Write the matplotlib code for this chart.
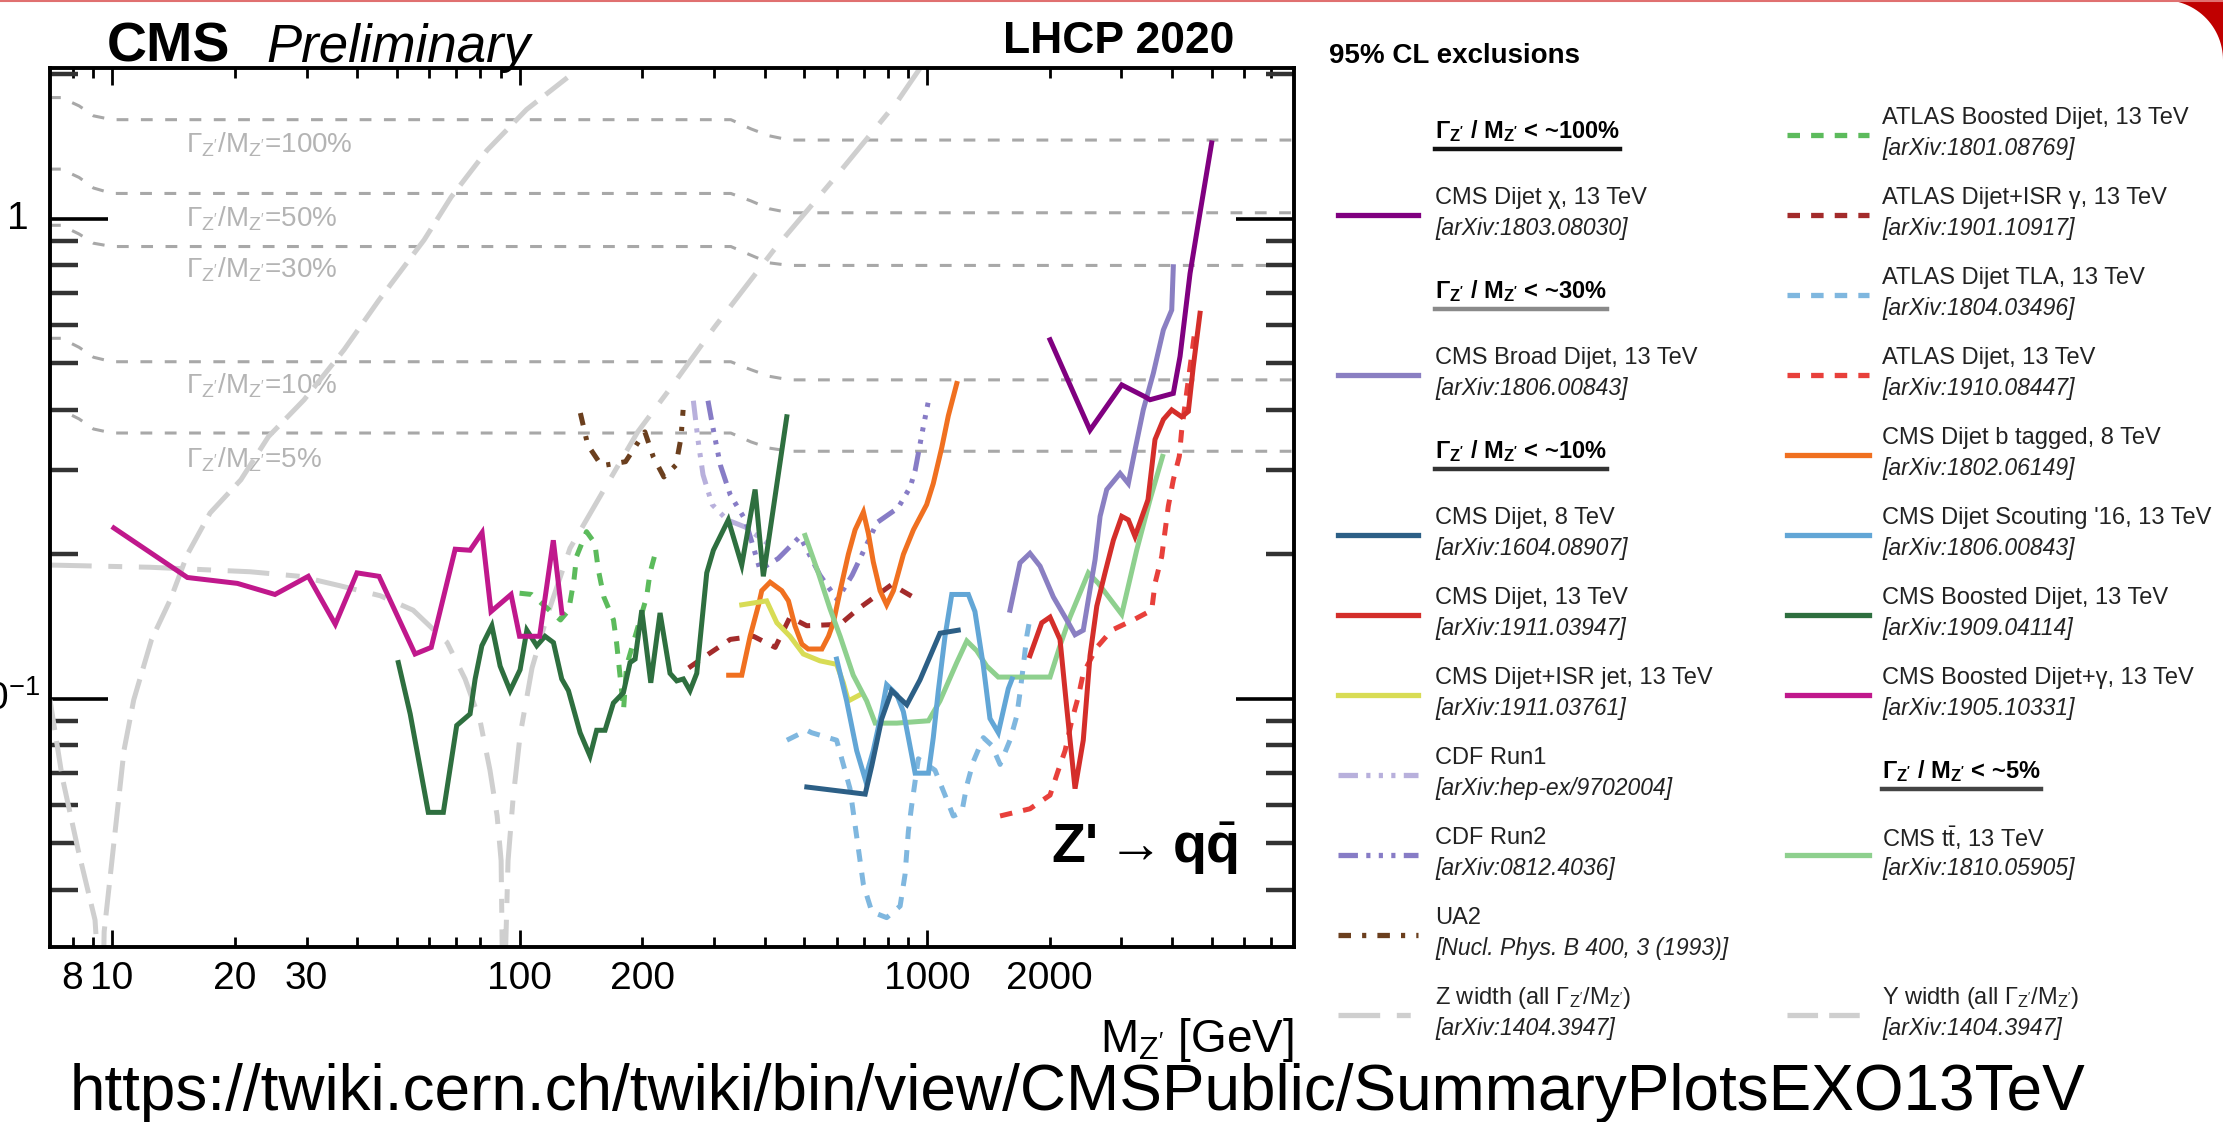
import matplotlib
matplotlib.use('Agg')
import matplotlib.pyplot as plt
from matplotlib.lines import Line2D
from matplotlib.patches import Polygon
from matplotlib.ticker import FixedLocator, FixedFormatter, FuncFormatter, NullFormatter
import numpy as np

plt.rcParams['font.family'] = ['Liberation Sans', 'DejaVu Sans']
plt.rcParams['mathtext.fontset'] = 'custom'
plt.rcParams['mathtext.rm'] = 'Liberation Sans'
plt.rcParams['mathtext.it'] = 'Liberation Sans:italic'
plt.rcParams['mathtext.bf'] = 'Liberation Sans:bold'
plt.rcParams['lines.scale_dashes'] = False

# ---------------- data (mass in GeV, coupling) ----------------
width_x = [7.0, 7.5, 8.3, 9.0, 10.0, 330, 370, 410, 460, 8000]
gm100_y = [1.79, 1.79, 1.72, 1.64, 1.61, 1.61, 1.54, 1.49, 1.46, 1.46]
gm50_y = [1.27, 1.27, 1.22, 1.16, 1.13, 1.13, 1.09, 1.05, 1.03, 1.03]
gm30_y = [0.97, 0.97, 0.93, 0.89, 0.876, 0.876, 0.84, 0.81, 0.80, 0.80]
gm10_y = [0.564, 0.564, 0.54, 0.515, 0.504, 0.504, 0.485, 0.47, 0.462, 0.462]
gm5_y = [0.40, 0.40, 0.383, 0.365, 0.358, 0.358, 0.343, 0.333, 0.328, 0.328]
gm_labels = ['=100%', '=50%', '=30%', '=10%', '=5%']

zw_x = [7.04, 12.4, 21.8, 28.9, 36.3, 45.5, 54.8, 66.4, 73.5, 80.0, 84.6, 88.1, 90.1, 91.2,
        93.7, 96.4, 100.3, 107.3, 117.5, 133, 162, 195, 235, 300, 421, 602, 844, 961]
zw_y = [0.190, 0.188, 0.184, 0.180, 0.172, 0.164, 0.153, 0.131, 0.110, 0.090, 0.071, 0.057, 0.046, 0.02,
        0.046, 0.062, 0.084, 0.116, 0.151, 0.206, 0.275, 0.360, 0.445, 0.593, 0.862, 1.235, 1.753, 2.06]

ups_x = [7.04, 7.54, 8.25, 9.08, 9.46, 9.56, 10.7, 11.3, 12.5, 13.9, 15.3, 17.4, 20.7, 24.2,
         29.6, 37.1, 45.2, 58.3, 67.9, 83.2, 104, 131]
ups_y = [0.0995, 0.0688, 0.0485, 0.0346, 0.02, 0.0327, 0.0783, 0.0995, 0.133, 0.161, 0.200, 0.244,
         0.286, 0.352, 0.420, 0.534, 0.678, 0.904, 1.11, 1.39, 1.69, 1.97]

chi_x = [2004, 2512, 3005, 3428, 3526, 4022, 4178, 4421, 4677, 4995]
chi_y = [0.560, 0.363, 0.451, 0.426, 0.420, 0.433, 0.517, 0.770, 1.03, 1.44]

broad_x = [1598, 1691, 1789, 1894, 2042, 2223, 2308, 2418, 2512, 2585, 2659, 2761, 2977, 3119,
           3239, 3394, 3593, 3802, 3986, 4022]
broad_y = [0.153, 0.192, 0.201, 0.189, 0.163, 0.144, 0.136, 0.139, 0.169, 0.195, 0.240, 0.273,
           0.295, 0.281, 0.330, 0.400, 0.477, 0.587, 0.646, 0.795]

dijet8_x = [507, 705, 732, 774, 819, 892, 961, 1076, 1193]
dijet8_y = [0.0655, 0.0633, 0.0726, 0.0908, 0.104, 0.0972, 0.1095, 0.137, 0.139]

dijet13_x = [1789, 1912, 2004, 2120, 2202, 2308, 2418, 2512, 2610, 2734, 2866, 3005, 3119, 3239,
             3486, 3627, 3802, 3986, 4217, 4378, 4503, 4677]
dijet13_y = [0.123, 0.144, 0.148, 0.133, 0.096, 0.065, 0.082, 0.123, 0.156, 0.183, 0.214, 0.240,
             0.236, 0.218, 0.260, 0.347, 0.382, 0.400, 0.387, 0.397, 0.493, 0.636]

isrjet_x = [351, 404, 428, 461, 497, 546, 600, 623, 641, 685]
isrjet_y = [0.157, 0.160, 0.144, 0.135, 0.124, 0.120, 0.118, 0.108, 0.099, 0.102]

cdf1_x = [267, 274, 282, 297, 323, 358, 412]
cdf1_y = [0.418, 0.347, 0.293, 0.254, 0.236, 0.228, 0.209]

cdf2_x = [290, 299, 311, 329, 358, 389, 431, 488, 546, 602, 655, 754, 849, 909, 935, 978, 1006]
cdf2_y = [0.418, 0.363, 0.307, 0.266, 0.236, 0.186, 0.196, 0.218, 0.181, 0.161, 0.181, 0.233,
          0.250, 0.276, 0.299, 0.367, 0.414]

ua2_x = [141, 147, 159, 182, 203, 213, 226, 242, 249, 252]
ua2_y = [0.394, 0.338, 0.306, 0.312, 0.360, 0.319, 0.290, 0.307, 0.350, 0.400]

atlasb_x = [100, 107, 126, 132, 136, 138, 146, 153, 156, 161, 170, 173, 180, 183, 205, 209, 217]
atlasb_y = [0.166, 0.165, 0.146, 0.153, 0.177, 0.198, 0.223, 0.211, 0.186, 0.163, 0.146, 0.131,
            0.095, 0.117, 0.163, 0.183, 0.206]

isrg_x = [260, 291, 329, 375, 424, 461, 507, 612, 678, 819, 935]
isrg_y = [0.116, 0.124, 0.133, 0.135, 0.128, 0.148, 0.142, 0.143, 0.154, 0.173, 0.162]

tla_x = [453, 507, 521, 600, 647, 698, 732, 796, 859, 883, 900, 917, 952, 1046, 1107, 1160, 1217,
         1252, 1299, 1375, 1441, 1511, 1598, 1660, 1691, 1723, 1757, 1789]
tla_y = [0.082, 0.086, 0.085, 0.082, 0.065, 0.041, 0.036, 0.035, 0.037, 0.043, 0.053, 0.060, 0.075,
         0.071, 0.063, 0.057, 0.058, 0.066, 0.074, 0.083, 0.080, 0.073, 0.082, 0.092, 0.103, 0.117,
         0.135, 0.147]

atlasdj_x = [1511, 1789, 2004, 2100, 2182, 2265, 2351, 2418, 2610, 2840, 3208, 3560, 3627, 3767,
             3910, 4022, 4160, 4217, 4546]
atlasdj_y = [0.057, 0.059, 0.063, 0.071, 0.078, 0.090, 0.101, 0.113, 0.128, 0.139, 0.146, 0.153,
             0.174, 0.198, 0.252, 0.286, 0.320, 0.363, 0.587]

btag_x = [326, 351, 368, 386, 393, 412, 440, 457, 474, 493, 511, 552, 573, 589, 612, 641, 666, 698,
          718, 738, 767, 796, 827, 875, 926, 998, 1036, 1087, 1128, 1183]
btag_y = [0.112, 0.112, 0.135, 0.157, 0.168, 0.175, 0.168, 0.160, 0.142, 0.130, 0.127, 0.127, 0.135,
          0.144, 0.168, 0.200, 0.225, 0.245, 0.221, 0.193, 0.168, 0.157, 0.168, 0.200, 0.225, 0.254,
          0.281, 0.334, 0.389, 0.454]

scout_x = [600, 635, 672, 705, 738, 774, 796, 843, 875, 900, 935, 1008, 1036, 1066, 1107, 1150,
           1263, 1311, 1375, 1427, 1496, 1583, 1617]
scout_y = [0.121, 0.099, 0.078, 0.068, 0.078, 0.094, 0.107, 0.102, 0.094, 0.083, 0.070, 0.070,
           0.083, 0.104, 0.135, 0.165, 0.165, 0.152, 0.117, 0.091, 0.085, 0.105, 0.110]

bdj_x = [50.4, 53.9, 59.7, 65.0, 70.1, 75.6, 77.8, 80.8, 85.5, 89.6, 94.8, 100.3, 104.2, 110.2,
         115.5, 121.1, 126.9, 131.8, 140.8, 148.9, 154.6, 162.1, 169.9, 179.8, 186.7, 192.1, 199.5,
         209.9, 221.2, 234.0, 243.1, 252.3, 262.0, 272.2, 288.0, 299.0, 325.3, 351.0, 378.5, 396.5,
         452.7]
bdj_y = [0.119, 0.093, 0.058, 0.058, 0.088, 0.093, 0.110, 0.129, 0.142, 0.117, 0.104, 0.115, 0.139,
         0.129, 0.135, 0.131, 0.110, 0.104, 0.085, 0.076, 0.086, 0.086, 0.098, 0.103, 0.119, 0.121,
         0.153, 0.108, 0.151, 0.113, 0.109, 0.110, 0.104, 0.113, 0.183, 0.204, 0.236, 0.190, 0.273,
         0.180, 0.387]

bdjg_x = [10.1, 15.3, 20.3, 25.1, 30.3, 35.3, 39.9, 45.2, 55.4, 60.7, 69.5, 75.6, 80.9, 85.1,
          95.3, 100, 112, 121, 127]
bdjg_y = [0.227, 0.179, 0.174, 0.165, 0.180, 0.143, 0.183, 0.180, 0.124, 0.128, 0.205, 0.204,
          0.222, 0.152, 0.165, 0.135, 0.135, 0.214, 0.151]

ttbar_x = [502, 541, 578, 612, 659, 711, 746, 843, 1008, 1076, 1183, 1252, 1324, 1401, 1496, 1691,
           2004, 2120, 2243, 2488, 2633, 3005, 3270, 3526, 3785]
ttbar_y = [0.219, 0.183, 0.154, 0.135, 0.112, 0.099, 0.089, 0.089, 0.090, 0.099, 0.119, 0.132,
           0.126, 0.117, 0.111, 0.111, 0.111, 0.129, 0.148, 0.183, 0.174, 0.150, 0.204, 0.260, 0.320]

xtick_major = [10, 100, 1000]
xtick_minor_labelled = [8, 20, 30, 200, 2000]
ytick_major = [0.1, 1]
ytick_major_labels = ['$10^{-1}$', '1']

# line styles
SOLID = '-'
DASH = (0, (9, 8))
CDF_LS = (0, (14, 6, 3, 6, 3, 6, 3, 6))
UA2_LS = (0, (9, 8, 3, 8))
Z_LS = (0, (30, 12, 10, 12))
Y_LS = (0, (22, 8))
GM_LS = (0, (8.5, 9))

ZP = "$_{\\mathrm{Z'}}$"

# name, reference, x, y, colour, style, legend column, legend row
series = [
    ('Z width (all \u0393' + ZP + '/M' + ZP + ')', '[arXiv:1404.3947]', zw_x, zw_y, '#cfcfcf', Z_LS, 0, 11),
    ('Y width (all \u0393' + ZP + '/M' + ZP + ')', '[arXiv:1404.3947]', ups_x, ups_y, '#cfcfcf', Y_LS, 1, 11),
    ('UA2', '[Nucl. Phys. B 400, 3 (1993)]', ua2_x, ua2_y, '#6b3f1e', UA2_LS, 0, 10),
    ('CDF Run1', '[arXiv:hep-ex/9702004]', cdf1_x, cdf1_y, '#b8b0dc', CDF_LS, 0, 8),
    ('CDF Run2', '[arXiv:0812.4036]', cdf2_x, cdf2_y, '#877cc6', CDF_LS, 0, 9),
    ('ATLAS Boosted Dijet, 13 TeV', '[arXiv:1801.08769]', atlasb_x, atlasb_y, '#5cbb5c', DASH, 1, 0),
    ('ATLAS Dijet+ISR \u03b3, 13 TeV', '[arXiv:1901.10917]', isrg_x, isrg_y, '#a32b2b', DASH, 1, 1),
    ('ATLAS Dijet TLA, 13 TeV', '[arXiv:1804.03496]', tla_x, tla_y, '#7fb7df', DASH, 1, 2),
    ('ATLAS Dijet, 13 TeV', '[arXiv:1910.08447]', atlasdj_x, atlasdj_y, '#e8403b', DASH, 1, 3),
    ('CMS Boosted Dijet, 13 TeV', '[arXiv:1909.04114]', bdj_x, bdj_y, '#2e6f3f', SOLID, 1, 6),
    ('CMS Boosted Dijet+\u03b3, 13 TeV', '[arXiv:1905.10331]', bdjg_x, bdjg_y, '#c0188c', SOLID, 1, 7),
    ('CMS Dijet b tagged, 8 TeV', '[arXiv:1802.06149]', btag_x, btag_y, '#f07020', SOLID, 1, 4),
    ('CMS Dijet+ISR jet, 13 TeV', '[arXiv:1911.03761]', isrjet_x, isrjet_y, '#d8dc55', SOLID, 0, 7),
    ('CMS t$\\bar{\\mathrm{t}}$, 13 TeV', '[arXiv:1810.05905]', ttbar_x, ttbar_y, '#8ed08e', SOLID, 1, 9),
    ('CMS Dijet Scouting \'16, 13 TeV', '[arXiv:1806.00843]', scout_x, scout_y, '#62a6d6', SOLID, 1, 5),
    ('CMS Dijet, 8 TeV', '[arXiv:1604.08907]', dijet8_x, dijet8_y, '#2c5f86', SOLID, 0, 5),
    ('CMS Broad Dijet, 13 TeV', '[arXiv:1806.00843]', broad_x, broad_y, '#8a7fc2', SOLID, 0, 3),
    ('CMS Dijet, 13 TeV', '[arXiv:1911.03947]', dijet13_x, dijet13_y, '#d42e2a', SOLID, 0, 6),
    ('CMS Dijet \u03c7, 13 TeV', '[arXiv:1803.08030]', chi_x, chi_y, '#800080', SOLID, 0, 1),
]

headers = [
    ('< ~100%', '#111111', 0, 0),
    ('< ~30%', '#8a8a8a', 0, 2),
    ('< ~10%', '#333333', 0, 4),
    ('< ~5%', '#444444', 1, 8),
]

# ---------------- figure ----------------
W, H = 2223, 1122
fig = plt.figure(figsize=(W / 100, H / 100), dpi=100)


def fx(px):
    return px / W


def fy(py):
    return 1 - py / H


ax = fig.add_axes([fx(50), fy(947), (1294 - 50) / W, (947 - 68) / H])
ax.set_xscale('log')
ax.set_yscale('log')

for gy, lab in zip([gm100_y, gm50_y, gm30_y, gm10_y, gm5_y], gm_labels):
    ax.plot(width_x, gy, color='#a8a8a8', lw=2.2, linestyle=GM_LS, zorder=1)

for name, ref, xs, ys, col, ls, c, r in series:
    ax.plot(xs, ys, color=col, lw=3.6, linestyle=ls, zorder=2 if col == '#cfcfcf' else 3,
            solid_joinstyle='miter')

ax.set_xlim(7.04, 7955)
ax.set_ylim(0.0304, 2.063)

# Gamma/M labels
gm_label_y = [1.43, 1.0, 0.783, 0.45, 0.315]
for lab, yy in zip(gm_labels, gm_label_y):
    ax.text(15.2, yy, "\u0393" + ZP + "/M" + ZP + lab, color='#b4b4b4', fontsize=20,
            va='center', ha='left', zorder=1)

# ticks
minor_x = [k * 10 ** n for n in range(0, 4) for k in range(2, 10) if 7.04 < k * 10 ** n < 7955]
ax.xaxis.set_major_locator(FixedLocator(xtick_major))
ax.xaxis.set_major_formatter(FixedFormatter([str(v) for v in xtick_major]))
ax.xaxis.set_minor_locator(FixedLocator(minor_x))
ax.xaxis.set_minor_formatter(FuncFormatter(
    lambda v, p: str(int(round(v))) if int(round(v)) in xtick_minor_labelled else ''))
minor_y = [k * 10 ** n for n in range(-2, 1) for k in range(2, 10) if 0.0304 < k * 10 ** n < 2.063]
ax.yaxis.set_major_locator(FixedLocator(ytick_major))
ax.yaxis.set_major_formatter(NullFormatter())
ax.yaxis.set_minor_locator(FixedLocator(minor_y))
ax.yaxis.set_minor_formatter(NullFormatter())

# y tick labels, placed by hand as in the screenshot (left one partly cut off)
ylab_x = [-0.0075, -0.0175]
for v, lab, xx in zip(ytick_major, ytick_major_labels, ylab_x):
    ax.text(xx, v, lab, transform=ax.get_yaxis_transform(), ha='right', va='center',
            fontsize=28)

ax.tick_params(axis='x', which='major', direction='in', length=12, width=2, top=True,
               labelsize=28, pad=10, colors='black')
ax.tick_params(axis='x', which='minor', direction='in', length=7, width=2, top=True,
               labelsize=28, pad=10)
ax.tick_params(axis='y', which='major', direction='in', length=42, width=2.6, right=True)
ax.tick_params(axis='y', which='minor', direction='in', length=20, width=3.2, right=True,
               color='#333333')
for sp in ax.spines.values():
    sp.set_linewidth(2.8)
    sp.set_color('black')

ax.text(1.0, -0.106, "M" + ZP + " [GeV]", transform=ax.transAxes, ha='right', va='center',
        fontsize=33)
ax.text(0.955, 0.0956, "Z'$\\rightarrow$q$\\bar{\\mathbf{q}}$", transform=ax.transAxes,
        ha='right', va='baseline', fontsize=40, fontweight='bold')

# titles
fig.text(fx(107), fy(62), 'CMS', fontsize=40, fontweight='bold', va='baseline')
fig.text(fx(266), fy(62), 'Preliminary', fontsize=38, style='italic', va='baseline')
fig.text(fx(1234), fy(53), 'LHCP 2020', fontsize=32, fontweight='bold', va='baseline', ha='right')
fig.text(fx(1329), fy(63), '95% CL exclusions', fontsize=20, fontweight='bold', va='baseline')

# legend
col_handle = [(1338, 1418), (1787, 1869)]
col_text = [1435, 1882]


def row_y(r):
    return 135 + 80 * r


for name, ref, xs, ys, col, ls, c, r in series:
    yy = row_y(r)
    x0, x1 = col_handle[c]
    fig.add_artist(Line2D([fx(x0), fx(x1)], [fy(yy), fy(yy)], transform=fig.transFigure,
                          color=col, lw=3.8, linestyle=ls))
    fig.text(fx(col_text[c]), fy(yy - 17), name, fontsize=17, va='center', color='#222222')
    fig.text(fx(col_text[c]), fy(yy + 14), ref, fontsize=16.5, style='italic', va='center',
             color='#222222')

hdr_texts = []
for txt, ucol, c, r in headers:
    yy = row_y(r)
    t = fig.text(fx(col_text[c]), fy(yy - 4),
                 "\u0393$_{\\mathbf{Z'}}$ / M$_{\\mathbf{Z'}}$ " + txt, fontsize=17,
                 fontweight='bold', va='center')
    hdr_texts.append((t, ucol, yy))

fig.canvas.draw()
for t, ucol, yy in hdr_texts:
    bb = t.get_window_extent()
    fig.add_artist(Line2D([bb.x0 / W, bb.x1 / W], [fy(yy + 14), fy(yy + 14)],
                          transform=fig.transFigure, color=ucol, lw=3.2))

# url
fig.text(fx(70), fy(1110), 'https://twiki.cern.ch/twiki/bin/view/CMSPublic/SummaryPlotsEXO13TeV',
         fontsize=46, va='baseline')

# slide decoration
fig.add_artist(Line2D([0, 1], [fy(1), fy(1)], transform=fig.transFigure, color='#e07070', lw=1.5))
ang = np.linspace(0, np.pi / 2, 30)
arc = [(fx(2163 + 60 * np.cos(a)), fy(60 - 60 * np.sin(a))) for a in ang]
corner = [(fx(2163), fy(0)), (fx(2223), fy(0)), (fx(2223), fy(60))] + arc
fig.add_artist(Polygon(corner, closed=True, transform=fig.transFigure,
                       facecolor='#c00000', edgecolor='none'))

fig.savefig('out.png', dpi=100)
